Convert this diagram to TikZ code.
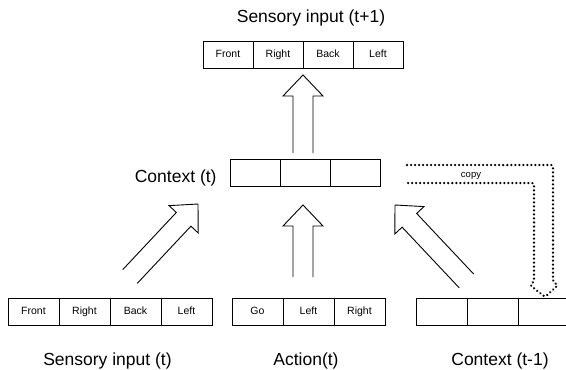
\documentclass[tikz,border=0pt]{standalone}
\usepackage{fontspec}
\setmainfont{Liberation Sans}
\usetikzlibrary{calc}
\begin{document}
\begin{tikzpicture}[x=1pt,y=-1pt,line width=0.9pt,
  cell/.style={draw, rectangle, inner sep=0pt, minimum height=27pt,
    text height=7.6pt, text depth=2.2pt,
    font=\fontsize{10.5}{12}\selectfont},
  cellA/.style={cell, minimum width=50pt},
  cellB/.style={cell, minimum width=51pt},
  title/.style={font=\fontsize{17.5}{21}\selectfont, inner sep=0pt},
  smalltext/.style={font=\fontsize{9.5}{11}\selectfont, inner sep=0pt},
  % hollow block arrow with an open tail: shaft 20, head 40 wide, 21 long
  blockarrow/.style={draw, to path={
    ($(\tikztostart)!10pt!90:(\tikztotarget)$)
    -- ($($(\tikztotarget)!21pt!(\tikztostart)$)!10pt!90:(\tikztotarget)$)
    -- ($($(\tikztotarget)!21pt!(\tikztostart)$)!20pt!90:(\tikztotarget)$)
    -- (\tikztotarget)
    -- ($($(\tikztotarget)!21pt!(\tikztostart)$)!20pt!-90:(\tikztotarget)$)
    -- ($($(\tikztotarget)!21pt!(\tikztostart)$)!10pt!-90:(\tikztotarget)$)
    -- ($(\tikztostart)!10pt!-90:(\tikztotarget)$)}},
  copyline/.style={draw, line width=2.5pt, line cap=round,
    dash pattern=on 0.01pt off 4pt, rounded corners=2pt}]

\clip (0,0) rectangle (566,370);

% sensory input at t+1
\node[title, anchor=base] (lst1) at (311,22) {Sensory input (t+1)};
\node[cellA] (o1) at (228,54.5) {Front};
\node[cellA] (o2) at (278,54.5) {Right};
\node[cellA] (o3) at (328,54.5) {Back};
\node[cellA] (o4) at (378,54.5) {Left};

% context at t
\node[title, anchor=base east] (lctx) at (217,182) {Context (t)};
\node[cellA, minimum height=26.5pt] (c1) at (255,173) {};
\node[cellA, minimum height=26.5pt] (c2) at (305,173) {};
\node[cellA, minimum height=26.5pt] (c3) at (355,173) {};

% sensory input at t
\node[cellB] (s1) at (33.5,311.5) {Front};
\node[cellB] (s2) at (84.5,311.5) {Right};
\node[cellB] (s3) at (135.5,311.5) {Back};
\node[cellB] (s4) at (186.5,311.5) {Left};
\node[title, anchor=base] (lst) at (107.5,365) {Sensory input (t)};

% action at t
\node[cellB] (a1) at (257.5,311.5) {Go};
\node[cellB] (a2) at (308.5,311.5) {Left};
\node[cellB] (a3) at (359.5,311.5) {Right};
\node[title, anchor=base] (lact) at (306,365) {Action(t)};

% context at t-1
\node[cellB] (p1) at (441.5,311.5) {};
\node[cellB] (p2) at (492.5,311.5) {};
\node[cellB] (p3) at (543.5,311.5) {};
\node[title, anchor=base] (lprev) at (500,365) {Context (t-1)};

% block arrow end points
\coordinate (ctxOutTail) at (303,153);
\coordinate (ctxOutTip) at (303,75);
\coordinate (actTail) at (303,277);
\coordinate (actTip) at (303,205);
\coordinate (senTail) at (130,276.5);
\coordinate (senTip) at (198,204);
\coordinate (prevTail) at (466.5,281);
\coordinate (prevTip) at (395,205);

\draw[blockarrow] (ctxOutTail) to (ctxOutTip);
\draw[blockarrow] (actTail) to (actTip);
\draw[blockarrow] (senTail) to (senTip);
\draw[blockarrow] (prevTail) to (prevTip);

% dotted copy arrow from context (t) down to context (t-1)
\coordinate (cpOuter) at (407,165);
\coordinate (cpInner) at (407,183);
\draw[copyline] (cpOuter) -- (553,165) -- (553,282) -- (558,285)
  -- (545,297) -- (530,285) -- (534,282) -- (534,183) -- (cpInner);
\node[smalltext] (lcopy) at (471,176) {copy};

\end{tikzpicture}
\end{document}
